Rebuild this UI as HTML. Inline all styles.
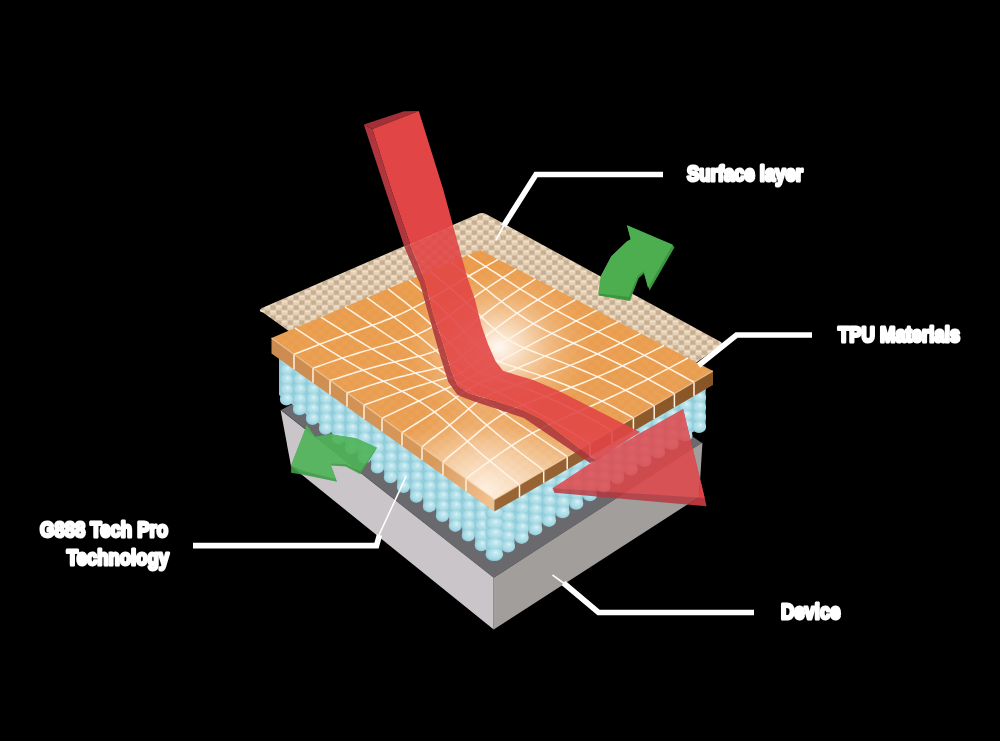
<!DOCTYPE html>
<html><head><meta charset="utf-8"><style>
html,body{margin:0;padding:0;background:#000;width:1000px;height:741px;overflow:hidden}
svg{display:block;will-change:transform}
.lbl{font-family:"Liberation Sans",sans-serif;font-weight:bold;font-size:22px;fill:#fff;stroke:#fff;stroke-width:3px;stroke-linejoin:round}
</style></head><body>
<svg width="1000" height="741" viewBox="0 0 1000 741">
<defs>
<pattern id="weave" width="11.5" height="10" patternUnits="userSpaceOnUse">
<rect width="11.5" height="10" fill="#E4D0B5"/>
<rect x="0" y="0" width="5.75" height="5" fill="#D3BB9F"/>
<rect x="5.75" y="5" width="5.75" height="5" fill="#D3BB9F"/>
<rect x="1.3" y="1" width="1" height="3.2" fill="#BCA083"/>
<rect x="3.4" y="1" width="1" height="3.2" fill="#BCA083"/>
<rect x="7.05" y="6" width="1" height="3.2" fill="#BCA083"/>
<rect x="9.15" y="6" width="1" height="3.2" fill="#BCA083"/>
<rect x="5.75" y="0.8" width="5.75" height="1.6" fill="#EFE1CB"/>
<rect x="0" y="5.8" width="5.75" height="1.6" fill="#EFE1CB"/>
</pattern>
<pattern id="otex" width="12" height="10" patternUnits="userSpaceOnUse">
<rect width="12" height="10" fill="#000" fill-opacity="0"/>
<rect x="0" y="0" width="6" height="5" fill="#B86A20" fill-opacity="0.06"/>
<rect x="6" y="5" width="6" height="5" fill="#B86A20" fill-opacity="0.06"/>
</pattern>
<radialGradient id="bub" cx="0.55" cy="0.45" r="0.58" fx="0.6" fy="0.32">
<stop offset="0" stop-color="#DDF3F7"/>
<stop offset="0.3" stop-color="#BDE5ED"/>
<stop offset="0.72" stop-color="#A5D9E4"/>
<stop offset="1" stop-color="#88C5D4"/>
</radialGradient>
<linearGradient id="colg" x1="0" y1="0" x2="1" y2="0">
<stop offset="0" stop-color="#92CEDC"/>
<stop offset="0.6" stop-color="#B0DEE8"/>
<stop offset="1" stop-color="#92CEDC"/>
</linearGradient>
<radialGradient id="fglow" cx="485" cy="490" r="95" gradientUnits="userSpaceOnUse">
<stop offset="0" stop-color="#FFF4E8" stop-opacity="0.85"/>
<stop offset="0.5" stop-color="#FBE0C4" stop-opacity="0.45"/>
<stop offset="1" stop-color="#F5C08A" stop-opacity="0"/>
</radialGradient>
<radialGradient id="glow" cx="499" cy="347" r="95" gradientUnits="userSpaceOnUse" gradientTransform="translate(499 347) scale(1 0.85) translate(-499 -347)">
<stop offset="0" stop-color="#FFFFFF" stop-opacity="0.95"/>
<stop offset="0.3" stop-color="#FCEBD9" stop-opacity="0.7"/>
<stop offset="0.65" stop-color="#F8D7B4" stop-opacity="0.3"/>
<stop offset="1" stop-color="#F5C08A" stop-opacity="0"/>
</radialGradient>
<linearGradient id="orgTop" x1="480" y1="250" x2="494" y2="496" gradientUnits="userSpaceOnUse">
<stop offset="0" stop-color="#EC9E4E"/>
<stop offset="0.72" stop-color="#EBA257"/>
<stop offset="1" stop-color="#F8DDBF"/>
</linearGradient>
<linearGradient id="orgL" x1="272" y1="338" x2="494" y2="496" gradientUnits="userSpaceOnUse">
<stop offset="0" stop-color="#CB8A4F"/>
<stop offset="0.75" stop-color="#D89A5C"/>
<stop offset="1" stop-color="#F0C08E"/>
</linearGradient>
<linearGradient id="orgR" x1="494" y1="496" x2="713" y2="371" gradientUnits="userSpaceOnUse">
<stop offset="0" stop-color="#9A6636"/>
<stop offset="1" stop-color="#875426"/>
</linearGradient>
<linearGradient id="redfade" x1="0" y1="200" x2="0" y2="260" gradientUnits="userSpaceOnUse">
<stop offset="0" stop-color="#fff"/>
<stop offset="1" stop-color="#c4c4c4"/>
</linearGradient>
<mask id="redmask" maskUnits="userSpaceOnUse" x="0" y="0" width="1000" height="741">
<rect width="1000" height="741" fill="url(#redfade)"/>
</mask>
<clipPath id="clipL"><polygon points="279,350 501.3,505 501.3,600 279,600"/></clipPath>
<clipPath id="clipR"><polygon points="494.3,500 706,380 706,600 494.3,600"/></clipPath>
</defs>

<!-- beige surface layer -->
<path d="M263,312.5 Q257,311 262,308 L478,214 Q482,212 486,214 L720,341.5 Q723.5,343.5 720.5,345.5 L697,362 L494,420 L290,332 Z" fill="url(#weave)"/>

<!-- green arrow top right -->
<polygon points="598.5,295.5 601,275.8 611.3,256.3 626.5,241.7 630.7,239.3 627,225.3 672.6,244.8 674.4,247.5 649.5,290.5 644,273.3 638.6,278.2 632,295 630,301" fill="#3B963F"/>
<polygon points="598.5,293.5 601,275.8 611.3,256.3 626.5,241.7 630.7,239.3 627,225.3 672.6,244.8 648,288 643.5,271 637.5,276 631,292 629,297" fill="#4CAE4F"/>

<!-- device block -->
<polygon points="281,410 490,300 702,443 493.7,577.7" fill="#6A696D"/>
<polygon points="280.6,410 493.7,577.7 493.7,629.5 291,466" fill="#C9C5C9"/>
<polygon points="493.7,577.7 702.5,442.6 699,497 493.7,629.5" fill="#A29E9C"/>

<!-- blue bubble layer -->
<g clip-path="url(#clipL)"><rect x="279" y="340" width="230" height="230" fill="none"/>
<polygon points="279,350 494,505 494,548 279,395" fill="#8CC8D6"/>
<g fill="url(#bub)"><rect x="280.4" y="357.3" width="12.1" height="42.3" fill="#98D1DE"/><ellipse cx="286.5" cy="360.3" rx="6.6" ry="6.1"/><ellipse cx="286.5" cy="370.1" rx="6.6" ry="6.1"/><ellipse cx="286.5" cy="379.9" rx="6.6" ry="6.1"/><ellipse cx="286.5" cy="389.7" rx="6.6" ry="6.1"/><ellipse cx="286.5" cy="399.5" rx="6.6" ry="6.1"/><rect x="293.4" y="366.6" width="12.1" height="42.7" fill="#98D1DE"/><ellipse cx="299.5" cy="370.0" rx="6.6" ry="6.1"/><ellipse cx="299.5" cy="379.8" rx="6.6" ry="6.1"/><ellipse cx="299.5" cy="389.6" rx="6.6" ry="6.1"/><ellipse cx="299.5" cy="399.4" rx="6.6" ry="6.1"/><ellipse cx="299.5" cy="409.2" rx="6.6" ry="6.1"/><rect x="306.4" y="375.8" width="12.1" height="43.2" fill="#98D1DE"/><ellipse cx="312.5" cy="369.9" rx="6.6" ry="6.1"/><ellipse cx="312.5" cy="379.7" rx="6.6" ry="6.1"/><ellipse cx="312.5" cy="389.5" rx="6.6" ry="6.1"/><ellipse cx="312.5" cy="399.3" rx="6.6" ry="6.1"/><ellipse cx="312.5" cy="409.1" rx="6.6" ry="6.1"/><ellipse cx="312.5" cy="418.9" rx="6.6" ry="6.1"/><rect x="319.4" y="385.1" width="12.1" height="43.7" fill="#98D1DE"/><ellipse cx="325.5" cy="379.6" rx="6.6" ry="6.1"/><ellipse cx="325.5" cy="389.4" rx="6.6" ry="6.1"/><ellipse cx="325.5" cy="399.2" rx="6.6" ry="6.1"/><ellipse cx="325.5" cy="409.0" rx="6.6" ry="6.1"/><ellipse cx="325.5" cy="418.8" rx="6.6" ry="6.1"/><ellipse cx="325.5" cy="428.6" rx="6.6" ry="6.1"/><rect x="332.4" y="394.3" width="12.1" height="44.1" fill="#98D1DE"/><ellipse cx="338.4" cy="389.3" rx="6.6" ry="6.1"/><ellipse cx="338.4" cy="399.1" rx="6.6" ry="6.1"/><ellipse cx="338.4" cy="408.9" rx="6.6" ry="6.1"/><ellipse cx="338.4" cy="418.7" rx="6.6" ry="6.1"/><ellipse cx="338.4" cy="428.5" rx="6.6" ry="6.1"/><ellipse cx="338.4" cy="438.3" rx="6.6" ry="6.1"/><rect x="345.4" y="403.6" width="12.1" height="44.6" fill="#98D1DE"/><ellipse cx="351.4" cy="399.1" rx="6.6" ry="6.1"/><ellipse cx="351.4" cy="408.9" rx="6.6" ry="6.1"/><ellipse cx="351.4" cy="418.7" rx="6.6" ry="6.1"/><ellipse cx="351.4" cy="428.5" rx="6.6" ry="6.1"/><ellipse cx="351.4" cy="438.3" rx="6.6" ry="6.1"/><ellipse cx="351.4" cy="448.1" rx="6.6" ry="6.1"/><rect x="358.4" y="412.8" width="12.1" height="45.1" fill="#98D1DE"/><ellipse cx="364.4" cy="408.8" rx="6.6" ry="6.1"/><ellipse cx="364.4" cy="418.6" rx="6.6" ry="6.1"/><ellipse cx="364.4" cy="428.4" rx="6.6" ry="6.1"/><ellipse cx="364.4" cy="438.2" rx="6.6" ry="6.1"/><ellipse cx="364.4" cy="448.0" rx="6.6" ry="6.1"/><ellipse cx="364.4" cy="457.8" rx="6.6" ry="6.1"/><rect x="371.3" y="422.1" width="12.1" height="45.5" fill="#98D1DE"/><ellipse cx="377.4" cy="418.5" rx="6.6" ry="6.1"/><ellipse cx="377.4" cy="428.3" rx="6.6" ry="6.1"/><ellipse cx="377.4" cy="438.1" rx="6.6" ry="6.1"/><ellipse cx="377.4" cy="447.9" rx="6.6" ry="6.1"/><ellipse cx="377.4" cy="457.7" rx="6.6" ry="6.1"/><ellipse cx="377.4" cy="467.5" rx="6.6" ry="6.1"/><rect x="384.3" y="431.3" width="12.1" height="46.0" fill="#98D1DE"/><ellipse cx="390.4" cy="428.2" rx="6.6" ry="6.1"/><ellipse cx="390.4" cy="438.0" rx="6.6" ry="6.1"/><ellipse cx="390.4" cy="447.8" rx="6.6" ry="6.1"/><ellipse cx="390.4" cy="457.6" rx="6.6" ry="6.1"/><ellipse cx="390.4" cy="467.4" rx="6.6" ry="6.1"/><ellipse cx="390.4" cy="477.2" rx="6.6" ry="6.1"/><rect x="397.3" y="440.5" width="12.1" height="46.5" fill="#98D1DE"/><ellipse cx="403.4" cy="437.9" rx="6.6" ry="6.1"/><ellipse cx="403.4" cy="447.7" rx="6.6" ry="6.1"/><ellipse cx="403.4" cy="457.5" rx="6.6" ry="6.1"/><ellipse cx="403.4" cy="467.3" rx="6.6" ry="6.1"/><ellipse cx="403.4" cy="477.1" rx="6.6" ry="6.1"/><ellipse cx="403.4" cy="486.9" rx="6.6" ry="6.1"/><rect x="410.3" y="449.8" width="12.1" height="46.9" fill="#98D1DE"/><ellipse cx="416.4" cy="447.6" rx="6.6" ry="6.1"/><ellipse cx="416.4" cy="457.4" rx="6.6" ry="6.1"/><ellipse cx="416.4" cy="467.2" rx="6.6" ry="6.1"/><ellipse cx="416.4" cy="477.0" rx="6.6" ry="6.1"/><ellipse cx="416.4" cy="486.8" rx="6.6" ry="6.1"/><ellipse cx="416.4" cy="496.6" rx="6.6" ry="6.1"/><rect x="423.3" y="459.0" width="12.1" height="47.4" fill="#98D1DE"/><ellipse cx="429.4" cy="457.3" rx="6.6" ry="6.1"/><ellipse cx="429.4" cy="467.1" rx="6.6" ry="6.1"/><ellipse cx="429.4" cy="476.9" rx="6.6" ry="6.1"/><ellipse cx="429.4" cy="486.7" rx="6.6" ry="6.1"/><ellipse cx="429.4" cy="496.5" rx="6.6" ry="6.1"/><ellipse cx="429.4" cy="506.3" rx="6.6" ry="6.1"/><rect x="436.3" y="468.3" width="12.1" height="47.9" fill="#98D1DE"/><ellipse cx="442.4" cy="467.0" rx="6.6" ry="6.1"/><ellipse cx="442.4" cy="476.8" rx="6.6" ry="6.1"/><ellipse cx="442.4" cy="486.6" rx="6.6" ry="6.1"/><ellipse cx="442.4" cy="496.4" rx="6.6" ry="6.1"/><ellipse cx="442.4" cy="506.2" rx="6.6" ry="6.1"/><ellipse cx="442.4" cy="516.0" rx="6.6" ry="6.1"/><rect x="449.3" y="477.5" width="12.1" height="48.3" fill="#98D1DE"/><ellipse cx="455.3" cy="476.8" rx="6.6" ry="6.1"/><ellipse cx="455.3" cy="486.6" rx="6.6" ry="6.1"/><ellipse cx="455.3" cy="496.4" rx="6.6" ry="6.1"/><ellipse cx="455.3" cy="506.2" rx="6.6" ry="6.1"/><ellipse cx="455.3" cy="516.0" rx="6.6" ry="6.1"/><ellipse cx="455.3" cy="525.8" rx="6.6" ry="6.1"/><rect x="462.3" y="486.8" width="12.1" height="48.8" fill="#98D1DE"/><ellipse cx="468.3" cy="486.5" rx="6.6" ry="6.1"/><ellipse cx="468.3" cy="496.3" rx="6.6" ry="6.1"/><ellipse cx="468.3" cy="506.1" rx="6.6" ry="6.1"/><ellipse cx="468.3" cy="515.9" rx="6.6" ry="6.1"/><ellipse cx="468.3" cy="525.7" rx="6.6" ry="6.1"/><ellipse cx="468.3" cy="535.5" rx="6.6" ry="6.1"/><rect x="475.2" y="496.0" width="12.1" height="49.3" fill="#98D1DE"/><ellipse cx="481.3" cy="496.2" rx="6.6" ry="6.1"/><ellipse cx="481.3" cy="506.0" rx="6.6" ry="6.1"/><ellipse cx="481.3" cy="515.8" rx="6.6" ry="6.1"/><ellipse cx="481.3" cy="525.6" rx="6.6" ry="6.1"/><ellipse cx="481.3" cy="535.4" rx="6.6" ry="6.1"/><ellipse cx="481.3" cy="545.2" rx="6.6" ry="6.1"/></g></g>
<g clip-path="url(#clipR)">
<polygon points="494,505 705,385 705,425 494,548" fill="#8CC8D6"/>
<g fill="url(#bub)"><rect x="692.5" y="387.9" width="13.1" height="39.1" fill="#98D1DE"/><ellipse cx="699.0" cy="387.7" rx="7.1" ry="6.1"/><ellipse cx="699.0" cy="397.5" rx="7.1" ry="6.1"/><ellipse cx="699.0" cy="407.3" rx="7.1" ry="6.1"/><ellipse cx="699.0" cy="417.1" rx="7.1" ry="6.1"/><ellipse cx="699.0" cy="426.9" rx="7.1" ry="6.1"/><rect x="678.8" y="395.7" width="13.1" height="39.8" fill="#98D1DE"/><ellipse cx="685.4" cy="396.2" rx="7.1" ry="6.1"/><ellipse cx="685.4" cy="406.0" rx="7.1" ry="6.1"/><ellipse cx="685.4" cy="415.8" rx="7.1" ry="6.1"/><ellipse cx="685.4" cy="425.6" rx="7.1" ry="6.1"/><ellipse cx="685.4" cy="435.4" rx="7.1" ry="6.1"/><rect x="665.2" y="403.5" width="13.1" height="40.5" fill="#98D1DE"/><ellipse cx="671.7" cy="404.8" rx="7.1" ry="6.1"/><ellipse cx="671.7" cy="414.6" rx="7.1" ry="6.1"/><ellipse cx="671.7" cy="424.4" rx="7.1" ry="6.1"/><ellipse cx="671.7" cy="434.2" rx="7.1" ry="6.1"/><ellipse cx="671.7" cy="444.0" rx="7.1" ry="6.1"/><rect x="651.5" y="411.3" width="13.1" height="41.3" fill="#98D1DE"/><ellipse cx="658.1" cy="413.3" rx="7.1" ry="6.1"/><ellipse cx="658.1" cy="423.1" rx="7.1" ry="6.1"/><ellipse cx="658.1" cy="432.9" rx="7.1" ry="6.1"/><ellipse cx="658.1" cy="442.7" rx="7.1" ry="6.1"/><ellipse cx="658.1" cy="452.5" rx="7.1" ry="6.1"/><rect x="637.9" y="419.1" width="13.1" height="42.0" fill="#98D1DE"/><ellipse cx="644.4" cy="421.8" rx="7.1" ry="6.1"/><ellipse cx="644.4" cy="431.6" rx="7.1" ry="6.1"/><ellipse cx="644.4" cy="441.4" rx="7.1" ry="6.1"/><ellipse cx="644.4" cy="451.2" rx="7.1" ry="6.1"/><ellipse cx="644.4" cy="461.0" rx="7.1" ry="6.1"/><rect x="624.2" y="426.9" width="13.1" height="42.8" fill="#98D1DE"/><ellipse cx="630.8" cy="430.4" rx="7.1" ry="6.1"/><ellipse cx="630.8" cy="440.2" rx="7.1" ry="6.1"/><ellipse cx="630.8" cy="450.0" rx="7.1" ry="6.1"/><ellipse cx="630.8" cy="459.8" rx="7.1" ry="6.1"/><ellipse cx="630.8" cy="469.6" rx="7.1" ry="6.1"/><rect x="610.6" y="434.7" width="13.1" height="43.5" fill="#98D1DE"/><ellipse cx="617.1" cy="429.1" rx="7.1" ry="6.1"/><ellipse cx="617.1" cy="438.9" rx="7.1" ry="6.1"/><ellipse cx="617.1" cy="448.7" rx="7.1" ry="6.1"/><ellipse cx="617.1" cy="458.5" rx="7.1" ry="6.1"/><ellipse cx="617.1" cy="468.3" rx="7.1" ry="6.1"/><ellipse cx="617.1" cy="478.1" rx="7.1" ry="6.1"/><rect x="596.9" y="442.5" width="13.1" height="44.2" fill="#98D1DE"/><ellipse cx="603.5" cy="437.6" rx="7.1" ry="6.1"/><ellipse cx="603.5" cy="447.4" rx="7.1" ry="6.1"/><ellipse cx="603.5" cy="457.2" rx="7.1" ry="6.1"/><ellipse cx="603.5" cy="467.0" rx="7.1" ry="6.1"/><ellipse cx="603.5" cy="476.8" rx="7.1" ry="6.1"/><ellipse cx="603.5" cy="486.6" rx="7.1" ry="6.1"/><rect x="583.3" y="450.3" width="13.1" height="45.0" fill="#98D1DE"/><ellipse cx="589.8" cy="446.2" rx="7.1" ry="6.1"/><ellipse cx="589.8" cy="456.0" rx="7.1" ry="6.1"/><ellipse cx="589.8" cy="465.8" rx="7.1" ry="6.1"/><ellipse cx="589.8" cy="475.6" rx="7.1" ry="6.1"/><ellipse cx="589.8" cy="485.4" rx="7.1" ry="6.1"/><ellipse cx="589.8" cy="495.2" rx="7.1" ry="6.1"/><rect x="569.6" y="458.1" width="13.1" height="45.7" fill="#98D1DE"/><ellipse cx="576.2" cy="454.7" rx="7.1" ry="6.1"/><ellipse cx="576.2" cy="464.5" rx="7.1" ry="6.1"/><ellipse cx="576.2" cy="474.3" rx="7.1" ry="6.1"/><ellipse cx="576.2" cy="484.1" rx="7.1" ry="6.1"/><ellipse cx="576.2" cy="493.9" rx="7.1" ry="6.1"/><ellipse cx="576.2" cy="503.7" rx="7.1" ry="6.1"/><rect x="556.0" y="465.9" width="13.1" height="46.5" fill="#98D1DE"/><ellipse cx="562.5" cy="463.2" rx="7.1" ry="6.1"/><ellipse cx="562.5" cy="473.0" rx="7.1" ry="6.1"/><ellipse cx="562.5" cy="482.8" rx="7.1" ry="6.1"/><ellipse cx="562.5" cy="492.6" rx="7.1" ry="6.1"/><ellipse cx="562.5" cy="502.4" rx="7.1" ry="6.1"/><ellipse cx="562.5" cy="512.2" rx="7.1" ry="6.1"/><rect x="542.4" y="473.7" width="13.1" height="47.2" fill="#98D1DE"/><ellipse cx="548.9" cy="471.8" rx="7.1" ry="6.1"/><ellipse cx="548.9" cy="481.6" rx="7.1" ry="6.1"/><ellipse cx="548.9" cy="491.4" rx="7.1" ry="6.1"/><ellipse cx="548.9" cy="501.2" rx="7.1" ry="6.1"/><ellipse cx="548.9" cy="511.0" rx="7.1" ry="6.1"/><ellipse cx="548.9" cy="520.8" rx="7.1" ry="6.1"/><rect x="528.7" y="481.5" width="13.1" height="47.9" fill="#98D1DE"/><ellipse cx="535.2" cy="480.3" rx="7.1" ry="6.1"/><ellipse cx="535.2" cy="490.1" rx="7.1" ry="6.1"/><ellipse cx="535.2" cy="499.9" rx="7.1" ry="6.1"/><ellipse cx="535.2" cy="509.7" rx="7.1" ry="6.1"/><ellipse cx="535.2" cy="519.5" rx="7.1" ry="6.1"/><ellipse cx="535.2" cy="529.3" rx="7.1" ry="6.1"/><rect x="515.1" y="489.2" width="13.1" height="48.7" fill="#98D1DE"/><ellipse cx="521.6" cy="488.8" rx="7.1" ry="6.1"/><ellipse cx="521.6" cy="498.6" rx="7.1" ry="6.1"/><ellipse cx="521.6" cy="508.4" rx="7.1" ry="6.1"/><ellipse cx="521.6" cy="518.2" rx="7.1" ry="6.1"/><ellipse cx="521.6" cy="528.0" rx="7.1" ry="6.1"/><ellipse cx="521.6" cy="537.8" rx="7.1" ry="6.1"/><rect x="501.4" y="497.0" width="13.1" height="49.4" fill="#98D1DE"/><ellipse cx="507.9" cy="497.4" rx="7.1" ry="6.1"/><ellipse cx="507.9" cy="507.2" rx="7.1" ry="6.1"/><ellipse cx="507.9" cy="517.0" rx="7.1" ry="6.1"/><ellipse cx="507.9" cy="526.8" rx="7.1" ry="6.1"/><ellipse cx="507.9" cy="536.6" rx="7.1" ry="6.1"/><ellipse cx="507.9" cy="546.4" rx="7.1" ry="6.1"/></g></g>
<g fill="url(#bub)"><rect x="486.2" y="505.0" width="16.1" height="50.0" fill="#98D1DE"/><ellipse cx="494.3" cy="503.1" rx="8.8" ry="6.4"/><ellipse cx="494.3" cy="513.4" rx="8.8" ry="6.4"/><ellipse cx="494.3" cy="523.7" rx="8.8" ry="6.4"/><ellipse cx="494.3" cy="534.0" rx="8.8" ry="6.4"/><ellipse cx="494.3" cy="544.3" rx="8.8" ry="6.4"/><ellipse cx="494.3" cy="554.6" rx="8.8" ry="6.4"/></g>

<!-- green arrow left -->
<g opacity="0.9">
<polygon points="291.1,465.6 306.8,425.1 314.9,436.8 330.5,434.2 355.9,438.3 376.6,447.4 376.6,448.4 360.4,474.2 345.7,466.6 330.5,465.6 337.1,481.8 303.2,474.7 291.1,472.7" fill="#3E9E45"/>
<polygon points="291.1,465.6 306.8,425.1 314.9,436.8 330.5,434.2 355.9,438.3 376.6,447.4 360.4,471.5 345.7,464 330.5,463.5 336,479 303.2,471 " fill="#4FB458"/>
</g>

<!-- orange slab -->
<polygon points="271.5,338.0 494.4,499.5 494.4,511.5 271.5,353.5" fill="url(#orgL)"/>
<polygon points="494.4,499.5 713.0,371.0 713.0,385.0 494.4,511.5" fill="url(#orgR)"/>
<polygon points="271.5,338.0 480.0,250.0 713.0,371.0 494.4,499.5" fill="url(#orgTop)"/>
<polygon points="271.5,338.0 480.0,250.0 713.0,371.0 494.4,499.5" fill="url(#otex)"/>
<polygon points="271.5,338.0 480.0,250.0 713.0,371.0 494.4,499.5" fill="url(#glow)"/>
<polygon points="271.5,338.0 480.0,250.0 713.0,371.0 494.4,499.5" fill="url(#fglow)"/>
<g stroke="#FFF4E6" stroke-width="1.5" fill="none" stroke-linejoin="round"><polyline points="294.0,354.3 299.4,352.3 304.5,350.2 309.6,348.2 314.7,346.2 319.8,344.3 325.4,342.1 331.1,340.0 336.6,338.0 342.2,336.0 347.6,334.1 352.8,332.2 357.8,330.5 362.8,328.7 367.7,327.0 372.4,325.2 376.9,323.6 381.2,322.0 385.4,320.3 389.6,318.7 393.6,317.0 397.5,315.3 401.4,313.6 405.1,311.9 408.8,310.1 412.5,308.3 416.2,306.4 419.9,304.4 423.6,302.5 427.2,300.4 430.9,298.4 434.6,296.2 438.3,294.1 442.0,291.9 445.8,289.7 449.5,287.4 453.4,285.1 457.3,282.8 461.2,280.5 465.1,278.2 469.0,276.0 472.3,274.0 475.7,272.1 479.0,270.2 482.3,268.4 485.6,266.5 488.1,265.1 490.5,263.7 493.0,262.3 495.4,260.9 497.9,259.3"/><polyline points="313.0,368.1 319.4,366.0 325.2,363.9 330.9,361.9 336.5,360.0 342.1,358.1 348.3,356.1 354.4,354.2 360.5,352.3 366.4,350.6 372.1,348.9 377.5,347.4 382.7,345.9 387.7,344.5 392.5,343.1 397.1,341.7 401.4,340.3 405.4,339.0 409.3,337.6 413.1,336.2 416.7,334.7 420.1,333.1 423.4,331.5 426.7,329.9 429.9,328.1 433.1,326.2 436.3,324.3 439.4,322.2 442.6,320.0 445.9,317.7 449.1,315.4 452.5,313.0 455.9,310.4 459.4,307.9 462.9,305.2 466.5,302.6 470.3,299.9 474.1,297.1 477.9,294.4 481.8,291.7 485.8,289.0 489.2,286.7 492.6,284.4 496.0,282.2 499.5,279.9 502.9,277.7 505.6,276.0 508.2,274.3 510.9,272.6 513.6,270.9 516.4,268.9"/><polyline points="330.0,380.4 337.7,378.2 344.2,376.0 350.6,374.0 356.9,372.0 363.1,370.2 369.8,368.3 376.3,366.5 382.7,364.8 388.8,363.3 394.7,361.9 400.2,360.6 405.3,359.5 410.1,358.3 414.7,357.3 419.0,356.2 422.8,355.2 426.4,354.1 429.8,353.0 433.0,351.9 436.0,350.6 438.8,349.3 441.6,347.8 444.3,346.2 447.0,344.5 449.6,342.6 452.3,340.6 455.1,338.4 458.0,336.1 460.9,333.7 464.0,331.1 467.2,328.4 470.5,325.6 474.0,322.7 477.6,319.8 481.3,316.8 485.1,313.8 489.1,310.7 493.2,307.6 497.3,304.5 501.5,301.5 505.2,298.9 509.0,296.3 512.7,293.8 516.4,291.3 520.2,288.9 523.2,286.9 526.1,285.0 529.1,283.1 532.2,281.1 535.5,278.8"/><polyline points="347.0,392.7 355.9,390.1 363.1,387.7 370.1,385.4 376.9,383.3 383.5,381.3 390.5,379.4 397.2,377.5 403.6,375.9 409.7,374.4 415.4,373.1 420.5,372.0 425.3,370.9 429.6,370.0 433.6,369.1 437.2,368.3 440.4,367.5 443.3,366.7 446.0,365.8 448.5,364.8 450.8,363.8 453.1,362.6 455.3,361.3 457.5,359.8 459.7,358.1 462.0,356.3 464.5,354.3 467.1,352.1 469.9,349.7 472.8,347.2 475.9,344.5 479.3,341.7 482.9,338.7 486.7,335.7 490.6,332.5 494.7,329.4 499.0,326.1 503.4,322.9 507.9,319.6 512.5,316.4 517.1,313.2 521.3,310.4 525.4,307.7 529.5,305.0 533.7,302.4 537.8,299.8 541.2,297.7 544.6,295.6 547.9,293.6 551.4,291.5 555.2,289.0"/><polyline points="364.0,405.0 373.6,401.6 381.3,398.8 388.5,396.1 395.4,393.6 402.1,391.3 408.9,389.0 415.4,386.9 421.4,385.0 427.0,383.4 432.1,381.9 436.6,380.6 440.6,379.5 444.2,378.6 447.4,377.7 450.2,376.9 452.7,376.2 454.9,375.4 456.9,374.6 458.9,373.8 460.7,372.8 462.6,371.7 464.5,370.5 466.5,369.2 468.6,367.6 471.0,365.9 473.6,363.9 476.4,361.8 479.5,359.5 482.9,357.1 486.5,354.5 490.4,351.7 494.6,348.8 499.0,345.8 503.5,342.7 508.2,339.6 513.1,336.4 518.2,333.2 523.2,330.0 528.4,326.8 533.5,323.7 538.1,320.9 542.7,318.2 547.3,315.6 551.8,312.9 556.3,310.4 560.1,308.3 563.8,306.2 567.6,304.1 571.3,302.0 575.5,299.6"/><polyline points="382.0,418.1 391.6,413.6 399.0,410.1 406.0,406.9 412.6,403.8 418.8,401.0 425.0,398.1 430.7,395.5 435.9,393.2 440.6,391.1 444.9,389.2 448.5,387.6 451.7,386.2 454.5,384.9 457.0,383.9 459.2,382.9 461.1,382.0 462.9,381.2 464.7,380.3 466.4,379.4 468.2,378.5 470.1,377.5 472.2,376.3 474.6,375.1 477.2,373.6 480.0,372.0 483.2,370.3 486.7,368.3 490.6,366.2 494.7,364.0 499.1,361.6 503.7,359.1 508.7,356.4 513.8,353.7 519.0,350.9 524.4,348.0 529.9,345.1 535.4,342.1 541.0,339.2 546.5,336.3 552.0,333.4 557.0,330.8 561.9,328.3 566.8,325.8 571.6,323.3 576.2,320.9 580.3,318.8 584.3,316.8 588.2,314.8 592.2,312.7 596.5,310.5"/><polyline points="402.0,432.6 410.4,427.1 417.1,423.0 423.3,419.1 429.1,415.4 434.5,412.0 439.7,408.6 444.4,405.4 448.7,402.5 452.6,399.8 456.0,397.5 459.0,395.4 461.6,393.5 464.0,391.8 466.2,390.4 468.3,389.1 470.2,387.9 472.2,386.8 474.2,385.8 476.4,384.7 478.7,383.7 481.3,382.6 484.1,381.4 487.2,380.2 490.6,378.8 494.4,377.4 498.4,375.8 502.8,374.0 507.4,372.2 512.3,370.2 517.4,368.1 522.8,365.8 528.3,363.5 533.9,361.1 539.5,358.6 545.2,356.1 551.0,353.6 556.8,351.0 562.4,348.4 568.1,345.8 573.6,343.3 578.7,340.9 583.6,338.6 588.5,336.2 593.2,334.0 597.9,331.7 602.0,329.7 606.0,327.7 610.0,325.8 614.0,323.8 618.2,321.8"/><polyline points="422.0,447.0 428.9,441.2 434.6,436.8 440.0,432.7 445.0,428.8 449.6,425.0 454.1,421.3 458.2,417.9 462.0,414.7 465.5,411.7 468.7,408.9 471.6,406.5 474.4,404.2 477.0,402.2 479.6,400.3 482.1,398.7 484.7,397.1 487.4,395.7 490.2,394.4 493.3,393.1 496.5,391.8 500.0,390.5 503.7,389.2 507.7,387.8 512.0,386.4 516.4,384.9 521.2,383.3 526.2,381.7 531.3,379.9 536.7,378.1 542.1,376.1 547.7,374.1 553.3,372.0 558.9,369.9 564.6,367.7 570.2,365.4 575.8,363.1 581.4,360.8 586.8,358.5 592.2,356.2 597.4,353.9 602.3,351.7 607.1,349.5 611.7,347.4 616.3,345.2 620.7,343.1 624.8,341.2 628.8,339.2 632.7,337.3 636.6,335.4 640.7,333.4"/><polyline points="443.0,462.3 448.6,456.9 453.7,452.7 458.5,448.8 463.1,445.0 467.4,441.4 471.7,437.8 475.7,434.4 479.6,431.2 483.3,428.1 486.8,425.2 490.3,422.6 493.7,420.1 497.0,417.8 500.4,415.6 503.8,413.6 507.3,411.7 510.9,409.9 514.7,408.2 518.6,406.5 522.7,404.9 526.9,403.2 531.3,401.6 535.9,399.9 540.6,398.3 545.5,396.5 550.5,394.8 555.6,393.0 560.8,391.1 566.0,389.2 571.3,387.2 576.6,385.2 581.9,383.2 587.2,381.1 592.5,378.9 597.6,376.8 602.8,374.6 607.8,372.4 612.8,370.2 617.7,368.0 622.5,365.8 627.0,363.7 631.5,361.6 635.9,359.5 640.2,357.4 644.4,355.3 648.4,353.3 652.3,351.4 656.2,349.4 660.1,347.5 663.9,345.5"/><polyline points="466.0,478.9 471.0,474.7 475.9,471.0 480.6,467.6 485.3,464.2 489.8,460.9 494.3,457.7 498.7,454.5 503.0,451.5 507.3,448.6 511.5,445.7 515.7,443.0 519.8,440.4 524.0,437.9 528.2,435.5 532.4,433.1 536.6,430.9 541.0,428.6 545.3,426.5 549.8,424.3 554.3,422.2 558.9,420.2 563.5,418.1 568.2,416.0 573.0,413.9 577.8,411.8 582.6,409.7 587.4,407.6 592.3,405.5 597.1,403.4 601.9,401.2 606.7,399.0 611.5,396.8 616.2,394.6 620.9,392.4 625.6,390.2 630.2,388.0 634.7,385.7 639.2,383.5 643.6,381.3 648.0,379.1 652.2,376.9 656.4,374.7 660.6,372.6 664.7,370.4 668.7,368.3 672.7,366.2 676.5,364.2 680.4,362.1 684.2,360.1 688.0,358.0"/><polyline points="295.0,328.1 300.4,331.6 305.7,335.1 311.1,338.7 316.7,342.3 321.9,345.6 326.7,348.6 331.6,351.7 336.6,354.7 341.7,357.8 346.2,360.5 350.8,363.2 355.4,365.9 360.1,368.5 364.7,371.1 369.2,373.6 373.8,376.1 378.3,378.5 382.7,380.9 387.0,383.2 391.2,385.4 395.2,387.6 399.2,389.8 403.1,391.9 407.0,394.0 410.7,396.2 414.3,398.3 417.8,400.4 421.4,402.6 424.9,405.0 428.3,407.4 431.7,409.9 435.0,412.4 438.3,415.1 441.6,417.9 444.9,420.8 448.4,423.9 451.9,427.1 455.7,430.6 459.5,434.1 463.6,437.9 467.9,441.7 472.5,445.9 477.3,450.2 482.3,454.5 487.4,458.9 493.2,463.7 499.5,468.9 506.0,474.1 512.6,479.3 519.5,484.8"/><polyline points="321.0,317.1 326.9,320.9 332.6,324.5 338.4,328.2 344.3,332.0 350.0,335.5 355.2,338.8 360.6,342.0 366.1,345.3 371.6,348.6 376.6,351.6 381.6,354.5 386.6,357.3 391.6,360.2 396.5,362.9 401.2,365.5 405.8,368.0 410.3,370.4 414.6,372.7 418.7,374.8 422.6,376.9 426.2,378.8 429.7,380.6 432.9,382.4 436.0,384.0 438.9,385.6 441.6,387.2 444.2,388.8 446.7,390.4 449.2,392.1 451.6,393.9 454.0,395.8 456.4,397.8 458.9,400.0 461.6,402.4 464.4,405.0 467.5,407.8 470.9,410.9 474.5,414.3 478.5,417.9 482.7,421.6 487.3,425.6 492.3,429.9 497.6,434.4 503.1,439.0 508.8,443.6 515.2,448.7 522.1,454.0 529.0,459.4 536.1,464.7 543.7,470.5"/><polyline points="345.0,307.0 351.3,311.2 357.1,315.0 363.0,319.0 369.1,323.0 374.9,326.8 380.2,330.4 385.6,334.0 391.1,337.7 396.6,341.3 401.6,344.7 406.5,347.9 411.3,351.1 416.0,354.3 420.6,357.3 424.9,360.1 429.0,362.9 432.9,365.5 436.6,367.9 440.0,370.1 443.0,372.1 445.9,374.0 448.5,375.7 450.9,377.3 453.1,378.8 455.1,380.1 457.0,381.4 458.7,382.6 460.5,383.8 462.4,385.0 464.3,386.3 466.4,387.8 468.7,389.4 471.2,391.1 474.0,393.1 477.2,395.2 480.7,397.7 484.7,400.4 489.1,403.5 493.8,406.7 498.9,410.2 504.4,414.0 510.3,418.0 516.5,422.3 522.9,426.6 529.4,431.1 536.5,435.9 544.0,441.0 551.5,446.1 559.0,451.2 567.2,456.7"/><polyline points="367.0,297.7 373.2,302.2 378.9,306.3 384.7,310.4 390.4,314.6 395.9,318.7 401.0,322.5 406.1,326.4 411.2,330.4 416.2,334.3 420.8,337.9 425.2,341.5 429.4,345.0 433.5,348.5 437.4,351.8 441.0,354.9 444.3,357.9 447.5,360.7 450.4,363.3 452.9,365.7 455.3,367.9 457.4,369.8 459.4,371.6 461.2,373.2 462.9,374.7 464.5,376.0 466.1,377.1 467.8,378.2 469.6,379.3 471.6,380.3 473.8,381.4 476.4,382.6 479.3,383.9 482.5,385.4 486.2,387.0 490.2,388.9 494.8,391.0 499.7,393.3 505.1,395.9 510.9,398.8 516.9,401.9 523.3,405.2 530.1,408.8 537.0,412.5 544.0,416.4 551.1,420.4 558.6,424.7 566.4,429.2 574.1,433.8 581.7,438.4 590.0,443.3"/><polyline points="388.0,288.8 393.8,293.5 399.1,297.6 404.4,301.7 409.6,305.9 414.6,310.0 419.2,313.9 423.8,317.9 428.3,321.9 432.7,325.9 436.6,329.6 440.4,333.3 444.1,336.9 447.5,340.4 450.8,343.8 453.8,347.1 456.6,350.2 459.2,353.1 461.6,355.8 463.8,358.3 465.9,360.6 467.8,362.7 469.7,364.6 471.5,366.3 473.3,367.9 475.2,369.3 477.2,370.6 479.4,371.7 481.9,372.9 484.6,374.0 487.7,375.1 491.2,376.3 495.1,377.6 499.3,379.0 503.9,380.6 509.0,382.3 514.4,384.2 520.2,386.3 526.3,388.6 532.7,391.2 539.3,393.9 546.1,396.8 553.2,400.0 560.3,403.3 567.5,406.7 574.6,410.2 581.9,414.0 589.5,418.0 596.9,422.0 604.2,426.1 612.0,430.3"/><polyline points="409.0,280.0 414.2,284.5 418.9,288.4 423.7,292.3 428.3,296.2 432.7,300.1 436.9,303.8 440.9,307.5 444.9,311.3 448.8,315.1 452.3,318.6 455.7,322.2 458.9,325.6 462.1,329.0 465.0,332.3 467.8,335.5 470.5,338.5 473.0,341.3 475.5,344.0 477.9,346.6 480.2,348.9 482.5,351.1 484.8,353.1 487.2,355.0 489.7,356.7 492.3,358.3 495.1,359.8 498.2,361.2 501.6,362.6 505.2,364.0 509.3,365.4 513.6,366.8 518.3,368.3 523.2,369.9 528.5,371.6 534.1,373.4 539.9,375.4 546.0,377.5 552.3,379.8 558.7,382.2 565.3,384.8 571.9,387.5 578.7,390.4 585.5,393.4 592.3,396.5 598.9,399.7 605.8,403.1 612.7,406.7 619.6,410.3 626.4,414.0 633.4,417.8"/><polyline points="430.0,271.1 434.5,275.1 438.8,278.6 443.0,282.0 447.3,285.5 451.3,288.9 455.1,292.2 458.9,295.6 462.6,298.9 466.2,302.3 469.6,305.5 472.9,308.7 476.1,311.8 479.3,314.9 482.4,317.9 485.4,320.8 488.3,323.6 491.3,326.3 494.2,328.9 497.0,331.4 500.0,333.7 502.9,336.0 506.0,338.1 509.1,340.1 512.4,342.1 515.8,343.9 519.5,345.8 523.3,347.5 527.4,349.3 531.7,351.0 536.3,352.8 541.1,354.6 546.2,356.5 551.4,358.4 556.8,360.4 562.4,362.4 568.1,364.6 574.0,366.9 579.9,369.3 586.0,371.8 592.1,374.4 598.2,377.0 604.4,379.9 610.6,382.8 616.7,385.7 622.8,388.8 629.0,392.0 635.3,395.3 641.6,398.7 647.8,402.1 654.2,405.6"/><polyline points="451.0,262.2 455.0,265.5 459.0,268.5 463.0,271.4 466.9,274.4 470.7,277.3 474.5,280.1 478.1,283.0 481.8,285.9 485.5,288.7 489.0,291.5 492.5,294.3 495.9,297.1 499.4,299.8 502.8,302.5 506.2,305.1 509.6,307.7 513.0,310.3 516.5,312.8 520.0,315.2 523.5,317.5 527.1,319.8 530.8,322.1 534.5,324.3 538.4,326.5 542.4,328.6 546.6,330.8 550.8,332.9 555.3,335.0 559.9,337.1 564.6,339.3 569.5,341.5 574.5,343.7 579.6,345.9 584.8,348.2 590.1,350.6 595.4,353.0 600.9,355.5 606.4,358.0 611.9,360.7 617.4,363.3 623.0,366.1 628.6,368.9 634.2,371.8 639.9,374.7 645.5,377.7 651.2,380.8 656.9,384.0 662.7,387.2 668.5,390.4 674.4,393.7"/><polyline points="468.0,255.1 471.9,257.7 475.7,260.2 479.6,262.7 483.5,265.1 487.3,267.6 491.1,270.1 495.0,272.5 498.8,275.0 502.6,277.5 506.4,280.0 510.1,282.4 513.9,284.9 517.7,287.3 521.6,289.8 525.4,292.2 529.3,294.6 533.2,297.0 537.1,299.4 541.1,301.7 545.1,304.1 549.1,306.4 553.3,308.7 557.5,311.0 561.7,313.3 566.1,315.6 570.5,318.0 575.0,320.3 579.6,322.6 584.3,325.0 589.0,327.3 593.9,329.7 598.8,332.2 603.7,334.6 608.7,337.1 613.8,339.6 618.9,342.2 624.0,344.8 629.2,347.4 634.4,350.1 639.7,352.8 644.9,355.6 650.2,358.4 655.6,361.2 660.9,364.1 666.3,367.0 671.7,369.9 677.2,373.0 682.8,376.0 688.3,379.1 694.0,382.2"/></g>
<g stroke="#FFF1E0" stroke-width="1.5"><line x1="294.0" y1="354.3" x2="294.0" y2="369.4"/><line x1="313.0" y1="368.1" x2="313.0" y2="382.8"/><line x1="330.0" y1="380.4" x2="330.0" y2="394.8"/><line x1="347.0" y1="392.7" x2="347.0" y2="406.8"/><line x1="364.0" y1="405.0" x2="364.0" y2="418.9"/><line x1="382.0" y1="418.1" x2="382.0" y2="431.6"/><line x1="402.0" y1="432.6" x2="402.0" y2="445.8"/><line x1="422.0" y1="447.0" x2="422.0" y2="460.0"/><line x1="443.0" y1="462.3" x2="443.0" y2="474.9"/><line x1="466.0" y1="478.9" x2="466.0" y2="491.3"/><line x1="519.5" y1="484.8" x2="519.5" y2="497.0"/><line x1="543.7" y1="470.5" x2="543.7" y2="482.9"/><line x1="567.2" y1="456.7" x2="567.2" y2="469.3"/><line x1="590.0" y1="443.3" x2="590.0" y2="456.1"/><line x1="612.0" y1="430.3" x2="612.0" y2="443.3"/><line x1="633.4" y1="417.8" x2="633.4" y2="431.0"/><line x1="654.2" y1="405.6" x2="654.2" y2="419.0"/><line x1="674.4" y1="393.7" x2="674.4" y2="407.3"/><line x1="694.0" y1="382.2" x2="694.0" y2="396.0"/></g>
<polyline points="271.5,338.0 494.4,499.5 713.0,371.0" fill="none" stroke="#F9D3A8" stroke-width="1.4" stroke-opacity="0.75"/>

<!-- red arrow -->
<defs>
<clipPath id="outside"><path clip-rule="evenodd" d="M0,0 H1000 V741 H0 Z M259,311 L290,332 L272,338 L272,353 L279,356 L279,405 L280.6,410 L291,466 L493.7,629.5 L699,497 L702.5,442.6 L705,433 L705,385 L712.8,385 L712.8,370.2 L697,362 L722.5,343.5 L482,213 Z"/></clipPath>
<clipPath id="inside"><path d="M259,311 L290,332 L272,338 L272,353 L279,356 L279,405 L280.6,410 L291,466 L493.7,629.5 L699,497 L702.5,442.6 L705,433 L705,385 L712.8,385 L712.8,370.2 L697,362 L722.5,343.5 L482,213 Z"/></clipPath>
<g id="redbody">
<path d="M363.8,124.6 L372.4,128.9 L391.5,190 L411,246.7 L424.7,280 L433.2,314 L442.7,342.3 L451.2,370.7 L457.8,385.8 L469.1,393.4 L495.6,400.9 L524,410.4 L542.8,420 L590.5,456.7 L597,460 L590,463 L524,418 L495.6,408.5 L472.9,401 L457.8,395.2 L448.3,382 L438.9,351.8 L429.4,317.8 L420,283.8 L404.3,246.7 L385.4,190 Z" fill="#AE363C"/>
<polygon points="363.8,124.6 404,111.3 418.8,111 372.4,128.9" fill="#A23036"/>
<path d="M372.4,128.9 L418.8,111 L443.4,190 L452.9,225 L461,254.8 L468.2,280 L474.8,298.9 L481.4,325.3 L488,344.2 L495.6,361.2 L503,370.7 L514.5,374.5 L533.4,380 L560,391.5 L620,422 L640,432 L597,460 L590.5,456.7 L542.8,420 L524,410.4 L495.6,400.9 L469.1,393.4 L457.8,385.8 L451.2,370.7 L442.7,342.3 L433.2,314 L424.7,280 L411,246.7 L391.5,190 Z" fill="#E24545"/>
</g>
</defs>
<use href="#redbody" clip-path="url(#outside)"/>
<use href="#redbody" clip-path="url(#inside)" opacity="0.89"/>
<!-- arrowhead -->
<defs><g id="redhead">
<polygon points="683.1,409 704.7,498.1 706.5,506.2 554.4,492.7 552.6,488.2" fill="#B8363E"/>
<polygon points="683.1,409 704.7,498.1 552.6,488.2 597.6,458.5 639.9,433.3" fill="#E04448"/>
</g></defs>
<use href="#redhead" clip-path="url(#outside)"/>
<use href="#redhead" clip-path="url(#inside)" opacity="0.84"/>

<!-- leader lines -->
<g stroke="#FFFFFF" stroke-width="5.6" fill="none" stroke-linejoin="miter" stroke-miterlimit="10">
<polyline points="663,174.5 536,174.5 503.5,226"/>
<polyline points="812,335 736.5,335 698.5,365.5"/>
<polyline points="193,545.6 376.5,545.6 379.5,535"/>
<polyline points="754,612.5 598.5,612.5 563.5,583"/>
</g>
<g stroke="#FFFFFF" stroke-width="1.6" fill="none" stroke-linecap="round">
<line x1="503.5" y1="226" x2="496" y2="240"/>
<line x1="379" y1="535" x2="406" y2="476.7"/>
<line x1="563.5" y1="583" x2="553" y2="575.4"/>
</g>

<!-- labels -->
<text class="lbl" transform="translate(687,181) scale(0.84,1)">Surface layer</text>
<text class="lbl" transform="translate(838,342) scale(0.84,1)">TPU Materials</text>
<text class="lbl" transform="translate(168,537) scale(0.84,1)" text-anchor="end">G888 Tech Pro</text>
<text class="lbl" transform="translate(169,564.5) scale(0.84,1)" text-anchor="end">Technology</text>
<text class="lbl" transform="translate(781,619) scale(0.84,1)">Device</text>
</svg>
</body></html>
